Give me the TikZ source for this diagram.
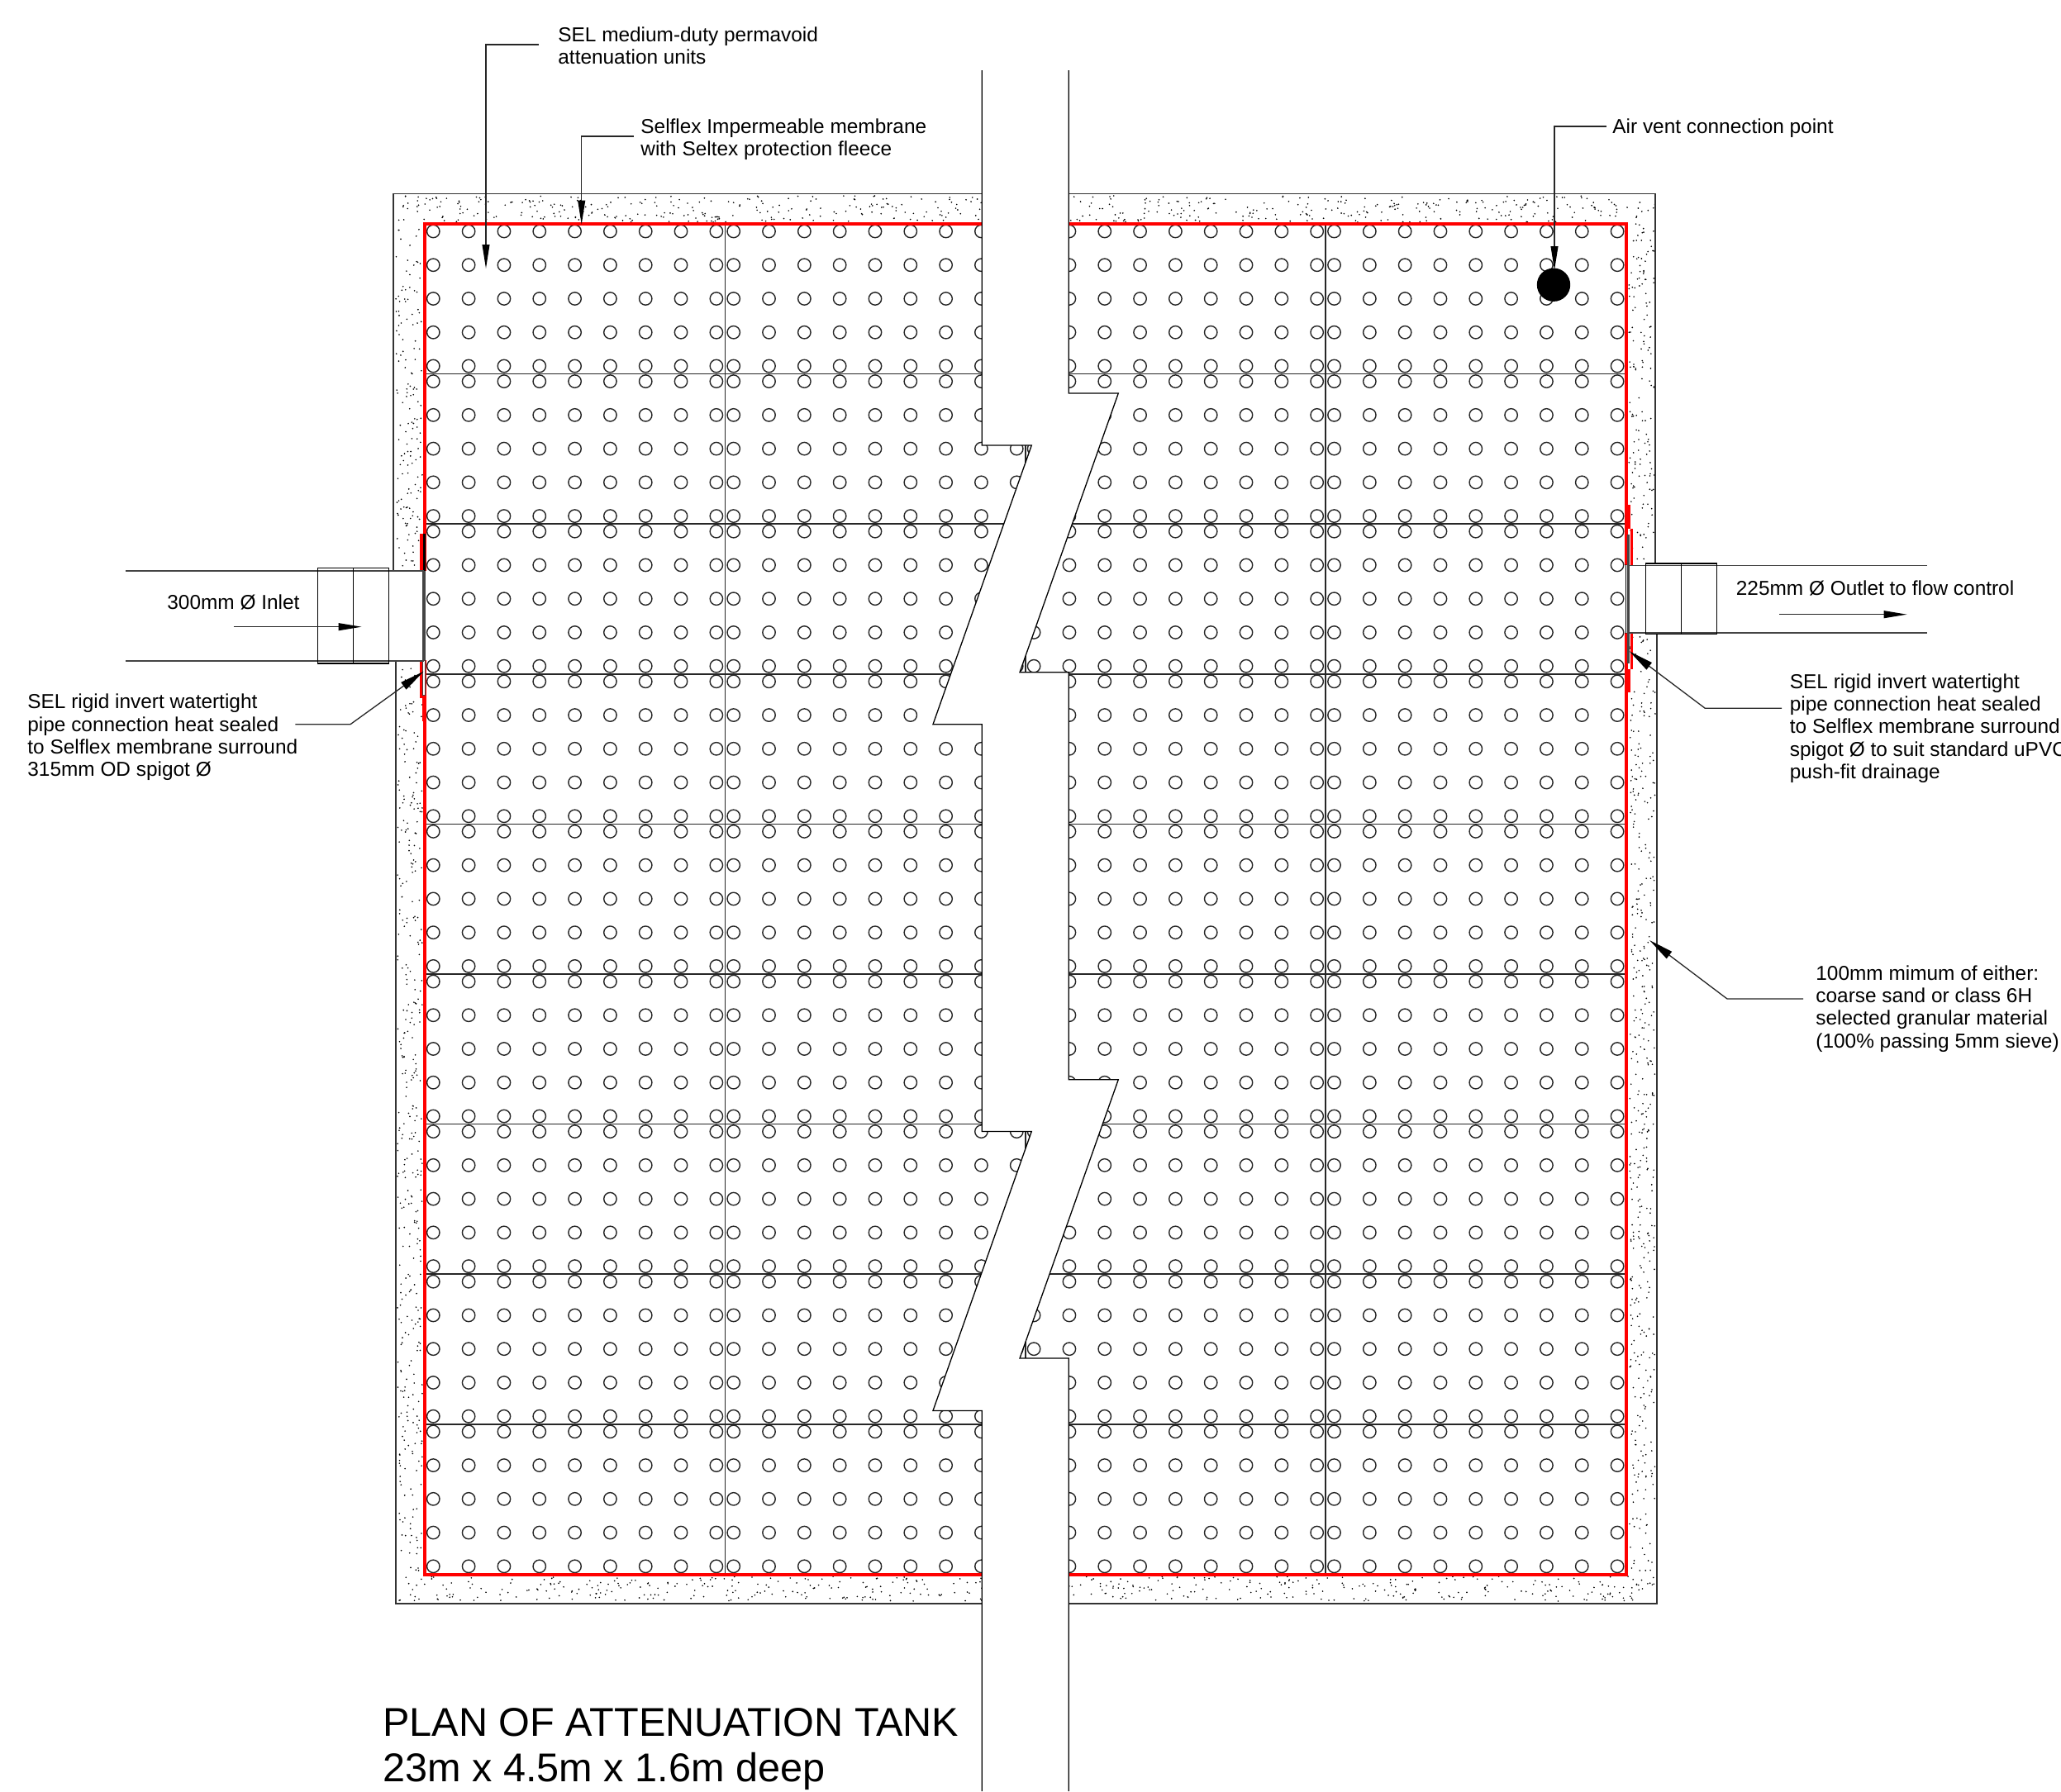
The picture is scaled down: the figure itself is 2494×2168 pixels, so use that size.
\documentclass[tikz,border=0pt]{standalone}
\usepackage{fontspec}
\setmainfont{Liberation Sans}
\usetikzlibrary{arrows.meta}
\definecolor{inkline}{HTML}{262626}
\definecolor{pipeline}{HTML}{444444}
\definecolor{memred}{HTML}{FF0000}
\tikzset{
  label/.style={inner sep=0pt,anchor=west,align=left,text=black,font=\fontsize{12.2}{13.65}\selectfont},
  titletxt/.style={inner sep=0pt,anchor=west,align=left,text=black,font=\fontsize{24.3}{27.5}\selectfont},
  stud/.style={draw=inkline,line width=0.7pt},
  gridline/.style={draw=inkline,line width=0.85pt},
  wall/.style={draw=black!80,line width=0.8pt},
  pipe/.style={draw=pipeline,line width=0.8pt},
  collar/.style={draw=black,line width=0.7pt},
  membrane/.style={draw=memred,line width=2pt},
  flange/.style={fill=pipeline},
  breakline/.style={draw=black,line width=0.65pt,line join=miter},
  leader/.style={draw=inkline,line width=0.65pt,-{Triangle[length=14.5pt,width=4.4pt,inset=0pt,color=black]}},
  leaderslant/.style={draw=inkline,line width=0.65pt,-{Triangle[length=15pt,width=5.2pt,inset=0pt,color=black]}},
  flowarrow/.style={draw=inkline,line width=0.7pt,-{Triangle[length=14pt,width=4.4pt,inset=0pt,color=black]}},
}
\newcommand\stipple[5]{\fill[black] foreach \i in {1,...,#5} {({#1+rnd*(#3-#1)},{#2+rnd*(#4-#2)}) circle[radius=0.46pt]};}
\begin{document}
\begin{tikzpicture}[x=0.5pt,y=-0.5pt]
\useasboundingbox (0,0) rectangle (2494,2168);
\clip (0,0) rectangle (2494,2168);
\fill[white] (0,0) rectangle (2494,2168);
\pgfmathsetseed{4711}
% stippled bedding
\stipple{478}{237}{2003}{269}{560}
\stipple{479}{271}{511}{690}{150}
\stipple{481}{802}{511}{1905}{370}
\stipple{481}{1908}{2004}{1938}{510}
\stipple{1971}{271}{2002}{683}{150}
\stipple{1972}{768}{2003}{1905}{420}
% outer wall of the bedding
\draw[wall] (476,690.7) -- (476,234.5) -- (2003,234.5) -- (2003,683);
\draw[wall] (478.7,800) -- (478.7,1940.7) -- (2004.7,1940.7) -- (2004.7,767);
% studs of the attenuation units
\foreach \r in {0,...,8}{\foreach \k in {0,...,4}{
  \draw[stud] foreach \c in {0,...,3}{foreach \j in {0,...,8}{
    (524.3+363.4*\c+42.82*\j,280+181.6*\r+40.75*\k) circle[radius=3.85pt]}};
}}
% unit joints
\foreach \r in {1,...,8}{\draw[gridline] (514,271+181.6*\r) -- (1967.7,271+181.6*\r);}
\foreach \c in {1,2,3}{\draw[gridline] (514+363.4*\c,271) -- (514+363.4*\c,1905.7);}
% membrane
\draw[membrane,line join=miter] (514,690.7) -- (514,271) -- (1967.7,271) -- (1967.7,684);
\draw[membrane,line join=miter] (514,799.7) -- (514,1905.7) -- (1967.7,1905.7) -- (1967.7,766);
\fill[memred] (507.7,645.7) rectangle (516,690.7);
\fill[memred] (507.7,799.3) rectangle (516,845);
\fill[memred] (510.7,845) rectangle (516,873);
\fill[memred] (1970,610.7) rectangle (1972.8,640);
\fill[memred] (1972.8,640) rectangle (1976,685);
\fill[memred] (1972.8,765.7) rectangle (1976,810);
\fill[memred] (1970,810) rectangle (1972.8,838);
% flanges
\fill[black] (512,646) rectangle (515,690.7);
\fill[flange] (511,690.7) rectangle (515,799.7);
\draw[pipeline,fill=white,line width=0.5pt] (511.5,799.7) rectangle (514,841.7);
\fill[flange] (1969,646.7) rectangle (1972.3,803);
\draw[black,line width=0.5pt] (1967.3,683) -- (1967.3,767);
% left pipe
\draw[pipe] (152,690.7) -- (513,690.7);
\draw[pipe] (152,799.7) -- (513,799.7);
\draw[collar] (384.7,687.3) rectangle (470.7,803);
\draw[collar] (427.7,687.3) -- (427.7,803);
% right pipe
\draw[pipe] (1970,684.3) -- (2331.7,684.3);
\draw[pipe] (1970,766) -- (2331.7,766);
\draw[collar] (1991.3,682) rectangle (2077.3,767.3);
\draw[collar] (2034.3,682) -- (2034.3,767.3);
% air vent
\fill[black] (1880,344.7) circle[radius=10.1pt];
% break band
\fill[white] (1188.3,85) -- (1188.3,539) -- (1248.3,539) -- (1129,876.7) -- (1188.3,876.7)
  -- (1188.3,1369.4) -- (1248.3,1369.4) -- (1129,1707.4) -- (1188.3,1707.4) -- (1188.3,2168)
  -- (1293.3,2168) -- (1293.3,1644) -- (1234,1644) -- (1353.3,1306.7) -- (1293.3,1306.7)
  -- (1293.3,813.7) -- (1234,813.7) -- (1353.3,476) -- (1293.3,476) -- (1293.3,85) -- cycle;
\draw[breakline] (1188.3,85) -- (1188.3,539) -- (1248.3,539) -- (1129,876.7) -- (1188.3,876.7)
  -- (1188.3,1369.4) -- (1248.3,1369.4) -- (1129,1707.4) -- (1188.3,1707.4) -- (1188.3,2168);
\draw[breakline] (1293.3,85) -- (1293.3,476) -- (1353.3,476) -- (1234,813.7) -- (1293.3,813.7)
  -- (1293.3,1306.7) -- (1353.3,1306.7) -- (1234,1644) -- (1293.3,1644) -- (1293.3,2168);
% texts
\node[label] (tUnits) at (675,55) {SEL medium-duty permavoid\\attenuation units};
\node[label] (tMembrane) at (775,169) {Selflex Impermeable membrane\\with Seltex protection fleece};
\node[label] (tVent) at (1951,155.5) {Air vent connection point};
\node[label] (tInlet) at (202,729) {300mm Ø Inlet};
\node[label] (tOutlet) at (2100.5,711.5) {225mm Ø Outlet to flow control};
\node[label] (tLeftSeal) at (33,892.5) {SEL rigid invert watertight\\pipe connection heat sealed\\to Selflex membrane surround\\315mm OD spigot Ø};
\node[label] (tRightSeal) at (2165.5,881.5) {SEL rigid invert watertight\\pipe connection heat sealed\\to Selflex membrane surround\\spigot Ø to suit standard uPVC\\push-fit drainage};
\node[label] (tBedding) at (2197,1221) {100mm mimum of either:\\coarse sand or class 6H\\selected granular material\\(100\% passing 5mm sieve)};
\node[titletxt] (tTitle) at (463,2117) {PLAN OF ATTENUATION TANK\\23m x 4.5m x 1.6m deep};
% leader end points
\coordinate (lUnitsA) at (652,54);
\coordinate (lUnitsB) at (588,54);
\coordinate (lUnitsC) at (588,325);
\coordinate (lMemA) at (767,165);
\coordinate (lMemB) at (703.7,165);
\coordinate (lMemC) at (703.7,271.7);
\coordinate (lVentA) at (1944,153);
\coordinate (lVentB) at (1881,153);
\coordinate (lVentC) at (1881,327);
\coordinate (lLeftA) at (357.3,876.7);
\coordinate (lLeftB) at (424,876.7);
\coordinate (lLeftC) at (512.7,812.7);
\coordinate (lRightA) at (2156,857.3);
\coordinate (lRightB) at (2063.3,857.3);
\coordinate (lRightC) at (1971.7,788.3);
\coordinate (lBedA) at (2182,1209);
\coordinate (lBedB) at (2090,1209);
\coordinate (lBedC) at (1996,1138);
\coordinate (fInA) at (282.7,758.7);
\coordinate (fInB) at (437.7,758.7);
\coordinate (fOutA) at (2153.3,743.7);
\coordinate (fOutB) at (2307.7,743.7);
% leaders
\draw[leader] (lUnitsA) -- (lUnitsB) -- (lUnitsC);
\draw[leader] (lMemA) -- (lMemB) -- (lMemC);
\draw[leader] (lVentA) -- (lVentB) -- (lVentC);
\draw[leaderslant] (lLeftA) -- (lLeftB) -- (lLeftC);
\draw[leaderslant] (lRightA) -- (lRightB) -- (lRightC);
\draw[leaderslant] (lBedA) -- (lBedB) -- (lBedC);
\draw[flowarrow] (fInA) -- (fInB);
\draw[flowarrow] (fOutA) -- (fOutB);
\end{tikzpicture}
\end{document}
